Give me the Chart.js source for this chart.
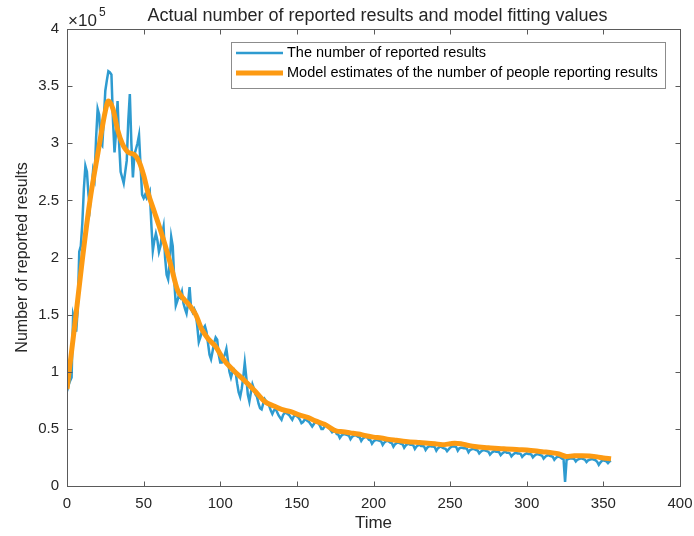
<!DOCTYPE html>
<html>
<head>
<meta charset="utf-8">
<script src="https://cdn.jsdelivr.net/npm/chart.js@4"></script>
<style>
    body { margin: 0; background: #fff; }
</style>
</head>
<body>
<canvas id="chart" width="694" height="536"></canvas>
<script>
    // values in units of 10^5
    // reported results, one value per day starting at day 0
    const reported = [
        0.83, 0.88, 0.92, 0.95, 1.50, 1.45, 1.35, 1.55, 2.05, 2.10,
        2.30, 2.60, 2.80, 2.75, 2.55, 2.45, 2.60, 2.76, 2.70, 3.05,
        3.30, 3.25, 3.00, 2.98, 3.20, 3.46, 3.55, 3.63, 3.62, 3.60,
        3.20, 2.92, 3.10, 3.37, 3.00, 2.75, 2.70, 2.65, 2.75, 2.85,
        3.20, 3.43, 3.00, 2.70, 2.90, 2.95, 3.00, 3.07, 2.80, 2.55,
        2.52, 2.55, 2.52, 2.55, 2.58, 2.30, 2.06, 2.15, 2.21, 2.15,
        2.05, 2.10, 2.20, 2.27, 2.00, 1.85, 1.81, 1.95, 2.18, 2.10,
        1.80, 1.58, 1.62, 1.67, 1.65, 1.70, 1.60, 1.55, 1.51, 1.60,
        1.74, 1.55, 1.52, 1.55, 1.52, 1.40, 1.26, 1.30, 1.35, 1.38,
        1.40, 1.35, 1.25, 1.15, 1.11, 1.18, 1.25, 1.30, 1.28, 1.15,
        1.08, 1.08, 1.12, 1.15, 1.20, 1.10, 1.00, 0.95, 1.00, 1.02,
        1.00, 0.90, 0.82, 0.78, 0.85, 0.95, 1.08, 0.95, 0.80, 0.74,
        0.82, 0.89, 0.85, 0.80, 0.78, 0.72, 0.68, 0.67, 0.72, 0.76,
        0.74, 0.72, 0.70, 0.66, 0.63, 0.66, 0.68, 0.65, 0.62, 0.60,
        0.58, 0.62, 0.64, 0.64, 0.63, 0.62, 0.60, 0.58, 0.61, 0.62,
        0.61, 0.60, 0.58, 0.55, 0.56, 0.58, 0.58, 0.57, 0.56, 0.54,
        0.52, 0.54, 0.56, 0.56, 0.55, 0.53, 0.50, 0.50, 0.52, 0.53,
        0.52, 0.51, 0.49, 0.47, 0.48, 0.49,
        0.455, 0.45, 0.42, 0.44, 0.45, 0.455, 0.45,
        0.445, 0.44, 0.41, 0.43, 0.44, 0.445, 0.44,
        0.43, 0.425, 0.395, 0.415, 0.425, 0.43, 0.425,
        0.405, 0.40, 0.37, 0.39, 0.40, 0.405, 0.40,
        0.395, 0.39, 0.36, 0.38, 0.39, 0.395, 0.39,
        0.38, 0.375, 0.345, 0.365, 0.375, 0.38, 0.375,
        0.37, 0.365, 0.335, 0.355, 0.365, 0.37, 0.36,
        0.36, 0.355, 0.325, 0.345, 0.355, 0.36, 0.35,
        0.35, 0.345, 0.315, 0.335, 0.345, 0.35, 0.345,
        0.345, 0.34, 0.31, 0.33, 0.34, 0.345, 0.335,
        0.33, 0.325, 0.305, 0.32, 0.335, 0.345, 0.345,
        0.345, 0.34, 0.31, 0.33, 0.335, 0.335, 0.33,
        0.33, 0.325, 0.295, 0.315, 0.32, 0.325, 0.32,
        0.315, 0.31, 0.285, 0.30, 0.31, 0.315, 0.31,
        0.305, 0.30, 0.275, 0.29, 0.30, 0.305, 0.30,
        0.30, 0.295, 0.27, 0.285, 0.295, 0.30, 0.29,
        0.29, 0.285, 0.26, 0.275, 0.285, 0.29, 0.285,
        0.285, 0.28, 0.255, 0.27, 0.28, 0.285, 0.28,
        0.28, 0.275, 0.25, 0.265, 0.275, 0.28, 0.275,
        0.27, 0.265, 0.24, 0.255, 0.265, 0.27, 0.265,
        0.26, 0.255, 0.23, 0.245, 0.255, 0.255, 0.25,
        0.24, 0.235, 0.035, 0.23, 0.235, 0.24, 0.24,
        0.24, 0.235, 0.215, 0.23, 0.235, 0.24, 0.24,
        0.235, 0.23, 0.21, 0.225, 0.23, 0.235, 0.235,
        0.23, 0.225, 0.21, 0.185, 0.205, 0.22, 0.225,
        0.22, 0.215, 0.20, 0.215, 0.22
    ];

    // model curve (days / values)
    const modelDays = [
        0, 5, 10, 15, 20, 25, 27, 30, 33, 36,
        40, 44, 47, 50, 53, 57, 60, 64, 68, 72,
        76, 80, 84, 88, 92, 97, 102, 108, 116, 122,
        129, 135, 140, 146, 152, 157, 162, 168, 176, 180,
        185, 190, 195, 200, 205, 210, 215, 221, 230, 240,
        245, 250, 253, 257, 262, 266, 275, 285, 295, 300,
        310, 317, 321, 326, 331, 336, 341, 346, 350, 355
    ];
    const modelValues = [
        0.85, 1.40, 1.98, 2.50, 2.90, 3.28, 3.37, 3.30, 3.12, 3.00,
        2.92, 2.90, 2.84, 2.72, 2.56, 2.40, 2.28, 2.11, 1.92, 1.72,
        1.64, 1.58, 1.50, 1.37, 1.29, 1.22, 1.11, 1.02, 0.92, 0.84,
        0.74, 0.70, 0.67, 0.65, 0.62, 0.60, 0.57, 0.54, 0.48, 0.475,
        0.465, 0.455, 0.44, 0.428, 0.42, 0.408, 0.40, 0.39, 0.38, 0.37,
        0.362, 0.37, 0.375, 0.37, 0.355, 0.345, 0.335, 0.325, 0.318, 0.315,
        0.30, 0.29, 0.28, 0.258, 0.265, 0.265, 0.262, 0.255, 0.245, 0.238
    ];

    const labels = ['The number of reported results', 'Model estimates of the number of people reporting results'];
    const colors = ['#2e9bd0', '#fd9a12'];
    const title = 'Actual number of reported results and model fitting values';
    const fontFamily = '"Liberation Sans", Arial, Helvetica, sans-serif';
    const textColor = '#262626';
    const axisColor = '#5a5a5a';

    // MATLAB-like box, inward ticks, title over the axes, exponent and legend
    const matlabFrame = {
        id: 'matlabFrame',
        afterDraw(chart) {
            const {ctx, chartArea: a, scales: {x, y}} = chart;
            const l = Math.round(a.left) + 0.5, r = Math.round(a.right) + 0.5;
            const t = Math.round(a.top) + 0.5, b = Math.round(a.bottom) + 0.5;
            ctx.save();
            ctx.strokeStyle = axisColor;
            ctx.lineWidth = 1;
            ctx.strokeRect(l, t, r - l, b - t);

            const len = 5;
            ctx.beginPath();
            x.ticks.forEach(tick => {
                const px = Math.round(x.getPixelForValue(tick.value)) + 0.5;
                ctx.moveTo(px, b); ctx.lineTo(px, b - len);
                ctx.moveTo(px, t); ctx.lineTo(px, t + len);
            });
            y.ticks.forEach(tick => {
                const py = Math.round(y.getPixelForValue(tick.value)) + 0.5;
                ctx.moveTo(l, py); ctx.lineTo(l + len, py);
                ctx.moveTo(r, py); ctx.lineTo(r - len, py);
            });
            ctx.stroke();

            ctx.fillStyle = textColor;
            ctx.textBaseline = 'middle';

            // title over the axes
            ctx.textAlign = 'center';
            ctx.font = '18px ' + fontFamily;
            ctx.fillText(title, (a.left + a.right) / 2 + 4, 16);

            // x10^5 above the y axis
            ctx.textAlign = 'left';
            ctx.font = '17px ' + fontFamily;
            ctx.fillText('\u00d710', 68, 21);
            ctx.font = '12px ' + fontFamily;
            ctx.fillText('5', 99, 13);

            // legend box
            const box = {left: 231, top: 42, right: 665, bottom: 88};
            ctx.fillStyle = '#fff';
            ctx.fillRect(box.left, box.top, box.right - box.left, box.bottom - box.top);
            ctx.strokeStyle = '#8c8c8c';
            ctx.strokeRect(box.left + 0.5, box.top + 0.5, box.right - box.left, box.bottom - box.top);
            ctx.font = '14.5px ' + fontFamily;
            chart.data.datasets.forEach((ds, i) => {
                const ly = 53 + i * 20;
                ctx.strokeStyle = ds.borderColor;
                ctx.lineWidth = ds.borderWidth;
                ctx.beginPath();
                ctx.moveTo(236, ly);
                ctx.lineTo(283, ly);
                ctx.stroke();
                ctx.fillStyle = '#000';
                ctx.fillText(ds.label, 287, ly);
            });
            ctx.restore();
        }
    };

    new Chart(document.querySelector('#chart'), {
        type: 'line',
        data: {
            datasets: [{
                label: labels[0],
                data: reported.map((v, i) => ({x: i, y: v})),
                borderColor: colors[0],
                borderWidth: 2.5,
                pointRadius: 0,
                tension: 0,
                order: 2
            }, {
                label: labels[1],
                data: modelDays.map((d, i) => ({x: d, y: modelValues[i]})),
                borderColor: colors[1],
                borderWidth: 5,
                pointRadius: 0,
                cubicInterpolationMode: 'monotone',
                order: 1
            }]
        },
        options: {
            responsive: false,
            animation: false,
            events: [],
            layout: {padding: {top: 29, right: 0}},
            plugins: {
                legend: {display: false},
                tooltip: {enabled: false},
                title: {display: false}
            },
            scales: {
                x: {
                    type: 'linear',
                    min: 0,
                    max: 400,
                    afterFit: scale => {
                        scale.height = 50;
                        scale.paddingRight = 14;
                    },
                    grid: {display: false, drawTicks: false},
                    border: {display: false},
                    ticks: {stepSize: 50, padding: 9, color: textColor, font: {family: fontFamily, size: 15}},
                    title: {display: true, text: 'Time', color: textColor, font: {family: fontFamily, size: 17}, padding: {top: 0, bottom: 2}}
                },
                y: {
                    min: 0,
                    max: 4,
                    afterFit: scale => { scale.width = 67; },
                    grid: {display: false, drawTicks: false},
                    border: {display: false},
                    ticks: {
                        stepSize: 0.5,
                        padding: 8,
                        color: textColor,
                        font: {family: fontFamily, size: 15},
                        callback: v => String(Math.round(v * 10) / 10)
                    },
                    title: {display: true, text: 'Number of reported results', color: textColor, font: {family: fontFamily, size: 16}, padding: {top: 13, bottom: 0}}
                }
            }
        },
        plugins: [matlabFrame]
    });
</script>
</body>
</html>
